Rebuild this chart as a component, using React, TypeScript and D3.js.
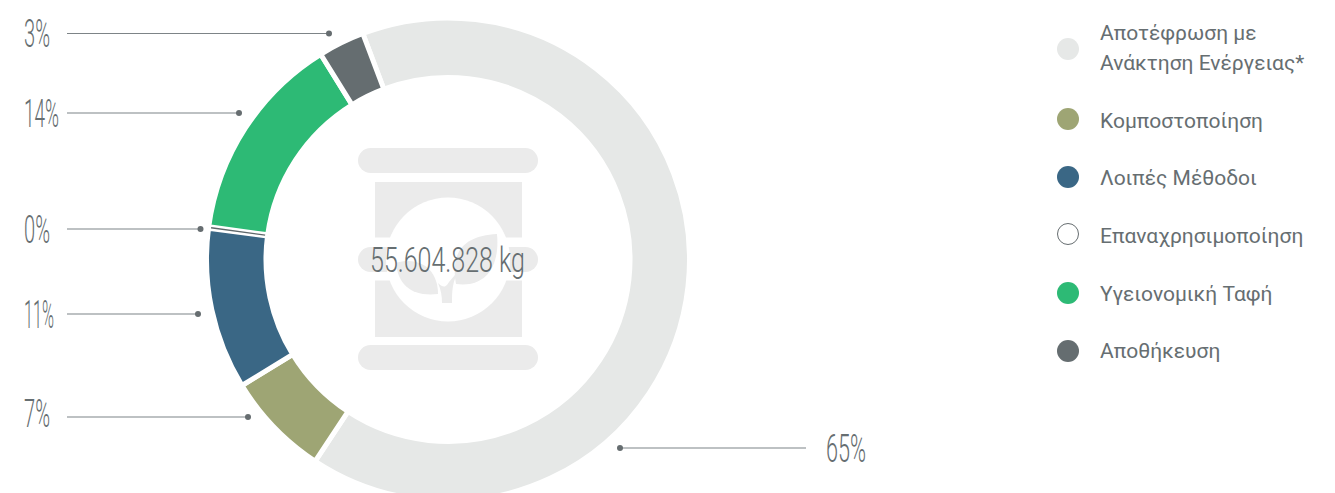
import React from "react";
import * as d3 from "d3";

const categories = ["Αποτέφρωση με Ανάκτηση Ενέργειας*", "Κομποστοποίηση", "Λοιπές Μέθοδοι", "Επαναχρησιμοποίηση", "Υγειονομική Ταφή", "Αποθήκευση"];
const legendLines = [["Αποτέφρωση με", "Ανάκτηση Ενέργειας*"], ["Κομποστοποίηση"], ["Λοιπές Μέθοδοι"], ["Επαναχρησιμοποίηση"], ["Υγειονομική Ταφή"], ["Αποθήκευση"]];
const values = [65.0, 7.0, 10.8, 0.1, 14.0, 3.1];
const percentLabels = ["65%", "7%", "11%", "0%", "14%", "3%"];
const colors = ["#e6e8e7", "#9ea574", "#3a6785", "#5f686b", "#2dba75", "#656d70"];
const total = "55.604.828 kg";

// layout only
const W = 1335, H = 493, CX = 448, CY = 259.5;
const leaderY = [448, 417, 314, 229, 113, 33.5];
const labelBaseline = [462, 427, 327.5, 243, 127, 47];
const labelWidth = [40, 26, 30, 26, 35, 26];
const dotX = [620, 248, 198, 200.5, 239, 329];
const legendY = [49, 119, 177, 234, 293, 351];
const legendBaseline = [40, 127.5, 185, 243, 301, 358];
const GREY = "#666e71";

export default function App() {
  const pie = d3.pie<number>().sort(null).startAngle((-20.65 * Math.PI) / 180).endAngle((339.35 * Math.PI) / 180);
  const slices = pie(values);
  const arc = d3.arc<d3.PieArcDatum<number>>().innerRadius(182).outerRadius(241.5);
  const thin = d3.arc<d3.PieArcDatum<number>>().innerRadius(184.5).outerRadius(239);
  const tiny = 3;
  const narrow = { fontFamily: "Roboto", fontWeight: 400, fill: GREY, lengthAdjust: "spacingAndGlyphs" } as const;
  return (
    <svg width={W} height={H} style={{ position: "absolute", left: 0, top: 0 }}>
      <g fill="#ebebeb">
        <rect x={358} y={148} width={180} height={25} rx={12.5} />
        <rect x={358} y={345} width={180} height={25} rx={12.5} />
        <rect x={375} y={182} width={147} height={155} />
        <rect x={375} y={237.5} width={147} height={43} fill="#fff" />
        <rect x={358} y={247} width={180} height={25} rx={12.5} />
        <circle cx={448} cy={259.5} r={62} fill="#fff" />
        <path d="M497 234 C465 236 450 250 456 284 C487 288 500 265 497 234 Z" />
        <path d="M396 263 C418 256 438 268 438 294 C412 297 398 285 396 263 Z" />
        <path d="M442 303 L452 303 C452 291 452 281 460 269 L449 282 C447 285 445 290 438 283 C441 290 442 296 442 303 Z" />
      </g>
      {slices.map((s, i) =>
        i === tiny ? null : <path key={categories[i]} transform={`translate(${CX},${CY})`} d={arc(s) as string} fill={colors[i]} stroke="#fff" strokeWidth={5} />
      )}
      <path transform={`translate(${CX},${CY})`} d={thin(slices[tiny]) as string} fill={colors[tiny]} />
      {values.map((_, i) => (
        <g key={i}>
          <line x1={i === 0 ? 806 : 67} x2={dotX[i]} y1={leaderY[i]} y2={leaderY[i]} stroke="#7d8487" strokeWidth={1.2} />
          <circle cx={dotX[i]} cy={leaderY[i]} r={3} fill="#666d70" />
          <text {...narrow} x={i === 0 ? 826 : 24} y={labelBaseline[i]} fontSize={38} fontWeight={300} textLength={labelWidth[i]}>{percentLabels[i]}</text>
        </g>
      ))}
      <text {...narrow} x={370} y={272} fontSize={35.5} fontWeight={300} textLength={155}>{total}</text>
      {legendLines.map((lines, i) => (
        <g key={i}>
          <circle cx={1068} cy={legendY[i]} r={i === 3 ? 10.5 : 11} fill={i === 3 ? "#fff" : colors[i]} stroke={i === 3 ? "#666d70" : "none"} strokeWidth={1} />
          {lines.map((t, j) => (
            <text key={j} x={1100} y={legendBaseline[i] + j * 30} fontFamily="Roboto" fontSize={21} fill={GREY}>{t}</text>
          ))}
        </g>
      ))}
    </svg>
  );
}
